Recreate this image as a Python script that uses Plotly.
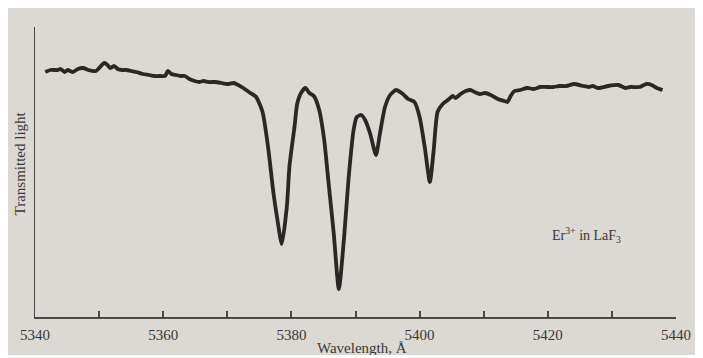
import plotly.graph_objects as go

# Wavelength (Angstrom) and transmitted light (arbitrary units)
wavelength = [
    5341.6, 5342.4, 5343.5, 5344.0, 5344.6, 5345.1, 5345.9, 5346.7, 5347.5, 5348.3,
    5349.5, 5350.8, 5351.3, 5351.7, 5352.4, 5352.9, 5353.6, 5354.3, 5355.0, 5355.8,
    5356.8, 5357.8, 5358.6, 5359.6, 5360.3, 5360.7, 5361.3, 5362.0, 5362.7, 5363.4,
    5364.1, 5364.9, 5365.6, 5366.3, 5367.1, 5368.1, 5369.1, 5370.0, 5371.0, 5371.7,
    5372.5, 5373.6, 5374.5, 5375.5, 5376.4, 5377.2, 5377.8, 5378.5, 5379.3, 5379.7,
    5380.5, 5380.9, 5381.5, 5382.2, 5382.8, 5383.5, 5384.3, 5385.1, 5385.8, 5386.6,
    5387.4, 5388.2, 5388.9, 5389.7, 5390.2, 5390.9, 5391.5, 5392.3, 5393.2, 5393.8,
    5394.6, 5395.4, 5396.3, 5397.4, 5398.2, 5399.2, 5400.0, 5400.8, 5401.6, 5402.2,
    5402.8, 5403.6, 5404.4, 5405.2, 5405.6, 5406.4, 5407.2, 5407.9, 5408.6, 5409.4,
    5410.2, 5411.1, 5412.2, 5413.2, 5413.7, 5414.2, 5414.8, 5415.7, 5416.8, 5417.8,
    5418.8, 5419.8, 5420.9, 5421.8, 5422.9, 5424.1, 5425.5, 5426.4, 5427.0, 5427.9,
    5429.4, 5431.0, 5432.1, 5432.9, 5434.3, 5435.4, 5436.2, 5437.0, 5437.9,
]
transmitted = [
    245, 247, 247, 248, 245, 247, 245, 248, 249, 247,
    246, 254, 252, 249, 251, 248, 247, 247, 246, 245,
    243, 242, 241, 241, 241, 246, 243, 242, 241, 241,
    238, 236, 235, 236, 235, 235, 234, 233, 234, 232,
    229, 224, 220, 205, 168, 124, 98, 73, 111, 151,
    191, 213, 224, 229, 224, 221, 208, 178, 134, 84,
    28, 78, 137, 187, 200, 202, 197, 183, 162, 183,
    210, 222, 227, 223, 218, 215, 200, 170, 135, 167,
    205, 213, 217, 221, 219, 223, 226, 227, 225, 223,
    224, 222, 218, 216, 215, 221, 226, 227, 229, 228,
    230, 230, 230, 231, 231, 233, 231, 230, 231, 229,
    231, 232, 229, 230, 230, 233, 232, 229, 227,
]

tick_values = [5340, 5350, 5360, 5370, 5380, 5390, 5400, 5410, 5420, 5430, 5440]
tick_labels = ["5340", "", "5360", "", "5380", "", "5400", "", "5420", "", "5440"]

ink = "#3a3836"
serif = "Liberation Serif, DejaVu Serif, serif"

fig = go.Figure()
fig.add_trace(go.Scatter(
    x=wavelength, y=transmitted, mode="lines",
    line=dict(color="#2b2725", width=3.8, shape="spline", smoothing=0.6),
    hoverinfo="skip", showlegend=False,
))

# page body has an 8px margin; the figure sits at (8, 8) in the window
fig.update_layout(
    width=695, height=347,
    margin=dict(l=20, r=15, t=19, b=38),
    paper_bgcolor="#dcd9d4",
    plot_bgcolor="rgba(0,0,0,0)",
    font=dict(family=serif, color=ink, size=15),
    xaxis=dict(
        range=[5340, 5440], tickvals=tick_values, ticktext=tick_labels,
        ticks="inside", ticklen=6, tickwidth=1.5, tickcolor="#4a4846",
        ticklabelstandoff=3,
        showline=True, linecolor="#4a4846", linewidth=1.6,
        showgrid=False, zeroline=False,
        tickfont=dict(family=serif, size=15, color=ink),
    ),
    yaxis=dict(
        range=[0, 290], showticklabels=False, ticks="",
        showline=True, linecolor="#4a4846", linewidth=1.4,
        showgrid=False, zeroline=False,
    ),
    annotations=[
        dict(text="Wavelength, Å", x=5391, xref="x", y=-31 / 290, yref="paper",
             xanchor="center", yanchor="middle", showarrow=False,
             font=dict(family=serif, size=15, color=ink)),
        dict(text="Transmitted light", x=-15 / 660, xref="paper", y=154 / 290, yref="paper",
             textangle=-90, xanchor="center", yanchor="middle", showarrow=False,
             font=dict(family=serif, size=15, color=ink)),
        dict(text="Er<sup>3+</sup> in LaF<sub>3</sub>", x=5426, xref="x", y=82, yref="y",
             xanchor="center", yanchor="middle", showarrow=False,
             font=dict(family=serif, size=14, color=ink)),
    ],
)

fig.write_html("out.html")
